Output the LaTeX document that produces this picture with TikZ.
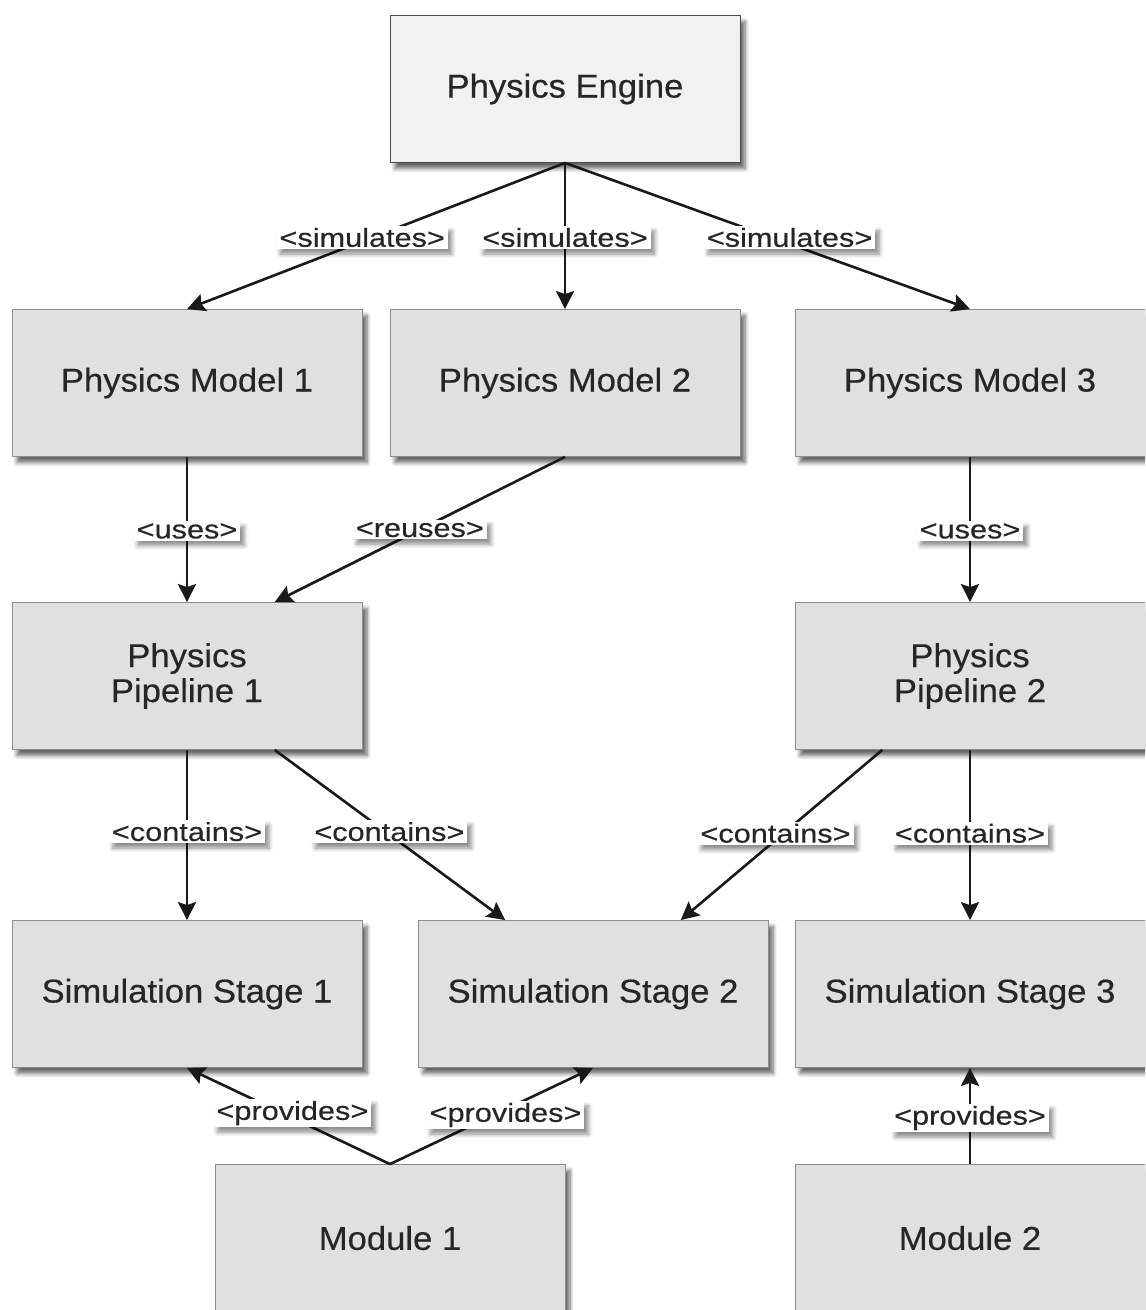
\documentclass[tikz,border=0pt]{standalone}
\usepackage{fontspec}
\setmainfont{Liberation Sans}[FakeStretch=1.05, FakeBold=0.4]
\newfontfamily\lblfont{Liberation Sans}[FakeStretch=1.18, FakeBold=0.4]
\usetikzlibrary{arrows.meta,calc,shadows.blur}
\definecolor{boxfill}{HTML}{E0E0E0}
\definecolor{topfill}{HTML}{F1F1F1}
\definecolor{boxline}{HTML}{8C8C8C}
\definecolor{inkgray}{HTML}{262626}

\begin{document}
\begin{tikzpicture}[x=0.5pt, y=-0.5pt,
  box/.style={draw=boxline, fill=boxfill, text=inkgray, align=center,
    minimum width=175pt, minimum height=73.5pt,
    font=\fontsize{16.5}{17.5}\selectfont,
    blur shadow={shadow xshift=2.5pt, shadow yshift=-3pt, shadow blur steps=6, shadow opacity=60}},
  topbox/.style={box, fill=topfill, draw=black!70},
  lbl/.style={fill=white, text=inkgray, inner xsep=1.5pt, inner ysep=1pt,
    font=\lblfont\fontsize{13}{15}\selectfont,
    blur shadow={shadow xshift=2pt, shadow yshift=-2.5pt, shadow blur steps=5, shadow opacity=45}},
  link/.style={line width=1.3pt, draw=black!90, -{Stealth[length=9pt, width=9pt, inset=1.5pt]}}]
  \path[use as bounding box, clip] (0,0) rectangle (1145,1310);
  % engine, y=89
  \node[topbox] (engine) at (565,89) {Physics Engine};
  % models, y=383
  \node[box] (pm1) at (187,383) {Physics Model 1};
  \node[box] (pm2) at (565,383) {Physics Model 2};
  \node[box] (pm3) at (970,383) {Physics Model 3};
  % pipelines, y=676
  \node[box] (pp1) at (187,676) {Physics\\Pipeline 1};
  \node[box] (pp2) at (970,676) {Physics\\Pipeline 2};
  % stages, y=994
  \node[box] (ss1) at (187,994) {Simulation Stage 1};
  \node[box] (ss2) at (593,994) {Simulation Stage 2};
  \node[box] (ss3) at (970,994) {Simulation Stage 3};
  % modules, y=1238 (cut at the bottom)
  \node[box] (mod1) at (390,1238) {Module 1};
  \node[box] (mod2) at (970,1238) {Module 2};

  % engine -> models
  \draw[link] (engine.south) -- node[lbl, pos=.51, xshift=-5pt] {<simulates>} (pm1.north);
  \draw[link] (engine.south) -- node[lbl, pos=.51] {<simulates>} (pm2.north);
  \draw[link] (engine.south) -- node[lbl, pos=.51, xshift=9pt] {<simulates>} (pm3.north);
  % models -> pipelines
  \draw[link] (pm1.south) -- node[lbl, pos=.51] {<uses>} (pp1.north);
  \draw[link] (pm2.south) -- node[lbl, pos=.5] {<reuses>} ($(pp1.north)!.5!(pp1.north east)$);
  \draw[link] (pm3.south) -- node[lbl, pos=.51] {<uses>} (pp2.north);
  % pipelines -> stages
  \draw[link] (pp1.south) -- node[lbl, pos=.48] {<contains>} (ss1.north);
  \draw[link] ($(pp1.south)!.5!(pp1.south east)$) -- node[lbl, pos=.48, xshift=2pt] {<contains>} ($(ss2.north)!.5!(ss2.north west)$);
  \draw[link] ($(pp2.south)!.5!(pp2.south west)$) -- node[lbl, pos=.49, xshift=-4pt] {<contains>} ($(ss2.north)!.5!(ss2.north east)$);
  \draw[link] (pp2.south) -- node[lbl, pos=.49] {<contains>} (ss3.north);
  % modules -> stages
  \draw[link] (mod1.north) -- node[lbl, pos=.53, xshift=5pt] {<provides>} (ss1.south);
  \draw[link] (mod1.north) -- node[lbl, pos=.51, xshift=6pt] {<provides>} (ss2.south);
  \draw[link] (mod2.north) -- node[lbl, pos=.48] {<provides>} (ss3.south);
\end{tikzpicture}
\end{document}
